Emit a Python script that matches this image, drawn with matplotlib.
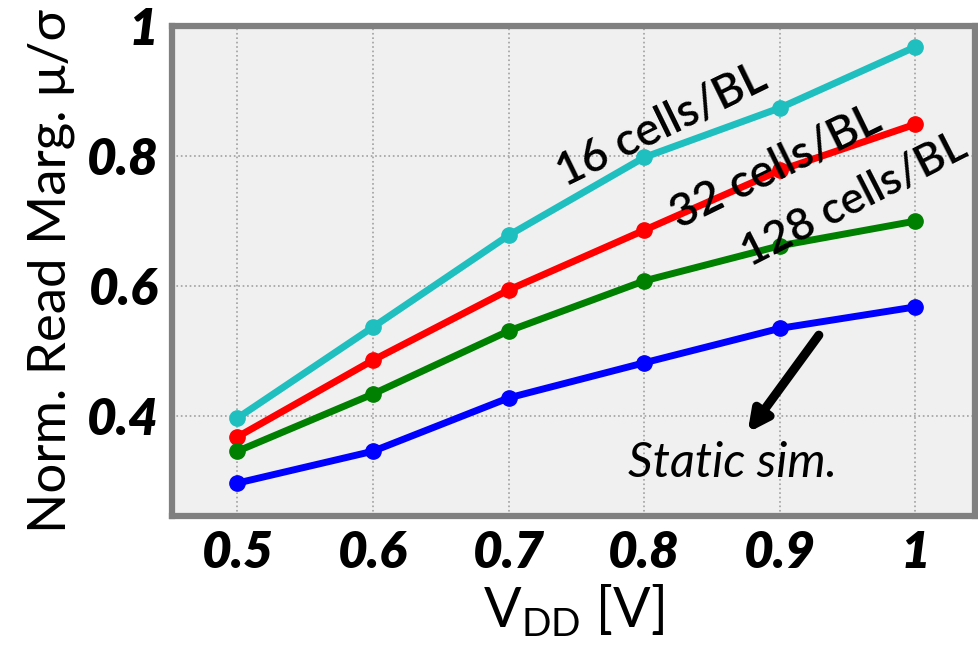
import numpy as np
import matplotlib
matplotlib.use("Agg")
import matplotlib.pyplot as plt

vdd = [0.5, 0.6, 0.7, 0.8, 0.9, 1.0]
margin_16 = [0.397, 0.537, 0.678, 0.798, 0.874, 0.968]
margin_32 = [0.368, 0.486, 0.594, 0.686, 0.778, 0.849]
margin_128 = [0.346, 0.434, 0.531, 0.608, 0.662, 0.700]
margin_static = [0.297, 0.346, 0.428, 0.482, 0.535, 0.568]

xticks = [0.5, 0.6, 0.7, 0.8, 0.9, 1.0]
xticklabels = ["0.5", "0.6", "0.7", "0.8", "0.9", "1"]
yticks = [0.4, 0.6, 0.8, 1.0]
yticklabels = ["0.4", "0.6", "0.8", "1"]

plt.rcParams['font.family'] = ['Lato', 'DejaVu Sans']


def main():
	fig = plt.figure(figsize=(9.79, 6.51), dpi=100)
	ax = fig.add_axes([0.176, 0.207, 0.82, 0.753])
	ax.set_facecolor("#f0f0f0")

	series = [(margin_16, "#1fbfbf"), (margin_32, "#ff0000"),
		(margin_128, "#008000"), (margin_static, "#0000ff")]
	for vals, col in series:
		ax.plot(vdd, vals, "-o", color=col, lw=5, ms=11, zorder=3)

	ax.set_xlim(0.452, 1.044)
	ax.set_ylim(0.246, 1.0)
	ax.set_xticks(xticks)
	ax.set_xticklabels(xticklabels, fontsize=37, fontweight="heavy", style="italic")
	ax.set_yticks(yticks)
	ax.set_yticklabels(yticklabels, fontsize=37, fontweight="heavy", style="italic")
	ax.tick_params(length=0, pad=10)
	ax.grid(True, ls=":", color="#a0a0a0", lw=1.2)
	for s in ax.spines.values():
		s.set_color("#808080")
		s.set_linewidth(4.5)

	ax.set_xlabel(r"V$_{\mathregular{DD}}$ [V]", fontsize=40, labelpad=4)
	ax.set_ylabel("Norm. Read Marg. \u03bc/\u03c3", fontsize=38, labelpad=8)

	#curve labels
	ax.text(0.813, 0.848, "16 cells/BL", fontsize=33, fontweight="semibold",
		rotation=26, ha="center", va="center")
	ax.text(0.897, 0.783, "32 cells/BL", fontsize=33, fontweight="semibold",
		rotation=26, ha="center", va="center")
	ax.text(0.955, 0.733, "128 cells/BL", fontsize=32, fontweight="semibold",
		rotation=27, ha="center", va="center")

	ax.annotate("", xy=(0.875, 0.371), xytext=(0.930, 0.528),
		arrowprops=dict(arrowstyle="-|>,head_width=0.6,head_length=1.2",
			color="black", lw=6.5))
	ax.text(0.865, 0.328, "Static sim.", fontsize=35, style="italic",
		ha="center", va="center")

	fig.savefig("out.png", dpi=100)


if __name__ == '__main__':
	main()
